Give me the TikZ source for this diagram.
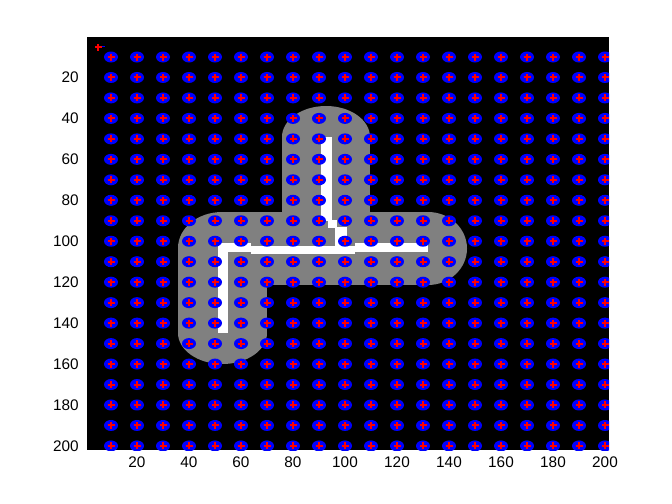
\documentclass[tikz,border=0pt]{standalone}
\usepackage{fontspec}
\setmainfont{Liberation Sans}
\begin{document}
\begin{tikzpicture}[x=0.75pt,y=-0.75pt,
  ticklab/.style={inner sep=0pt,font=\fontsize{11.5}{13}\selectfont},
  region/.style={fill={rgb,255:red,128;green,128;blue,128}},
  skel/.style={fill=white},
  blob/.style={fill={rgb,255:red,0;green,0;blue,255}},
  cross/.style={draw={rgb,255:red,255;green,0;blue,0},line width=1.5pt}]
\useasboundingbox[fill=white] (0,0) rectangle (672,504);
% axes area
\fill[black] (87,37) rectangle (609,450);
\begin{scope}
\clip (87,37) rectangle (609,450);
% gray region
\fill[region] (326,137) ellipse [x radius=44,y radius=31];
\fill[region] (282,137) rectangle (370,250);
\fill[region] (222,212) rectangle (428,285);
\fill[region] (428,248.5) ellipse [x radius=39,y radius=36.5];
\fill[region] (222,248) ellipse [x radius=44,y radius=36];
\fill[region] (178,248) rectangle (267,333);
\fill[region] (222.5,333) ellipse [x radius=44.5,y radius=31];
% white skeleton
\fill[skel] (321,137) rectangle (332,221);
\fill[skel] (328,220) rectangle (337,228);
\fill[skel] (335,227) rectangle (347,247);
\fill[skel] (217.7,243) rectangle (251,252);
\fill[skel] (251,246) rectangle (355,254);
\fill[skel] (355,243) rectangle (428,252);
\fill[skel] (217.7,243) rectangle (228,333);
% grid of markers
\foreach \i in {0,...,19}{
  \foreach \j in {0,...,19}{
    \fill[blob] ({111+26*\i},{57+20.47*\j}) ellipse [x radius=7,y radius=5.5];
    \draw[cross] ({111+26*\i-3.5},{57+20.47*\j}) -- ({111+26*\i+3.5},{57+20.47*\j})
                 ({111+26*\i},{57+20.47*\j-3.5}) -- ({111+26*\i},{57+20.47*\j+3.5});
  }
}
% corner marker
\fill[blob] (100.5,45.7) rectangle (105,47.3);
\draw[cross] (95,47.3) -- (101.5,47.3) (98.3,44) -- (98.3,50.5);
\end{scope}
% tick labels
\foreach \v in {20,40,...,200}{
  \node[ticklab] (xl\v) at ({111+2.6*(\v-10)},462.5) {\v};
  \node[ticklab,anchor=east] (yl\v) at (79,{57+2.047*(\v-10)}) {\v};
}
\end{tikzpicture}
\end{document}
